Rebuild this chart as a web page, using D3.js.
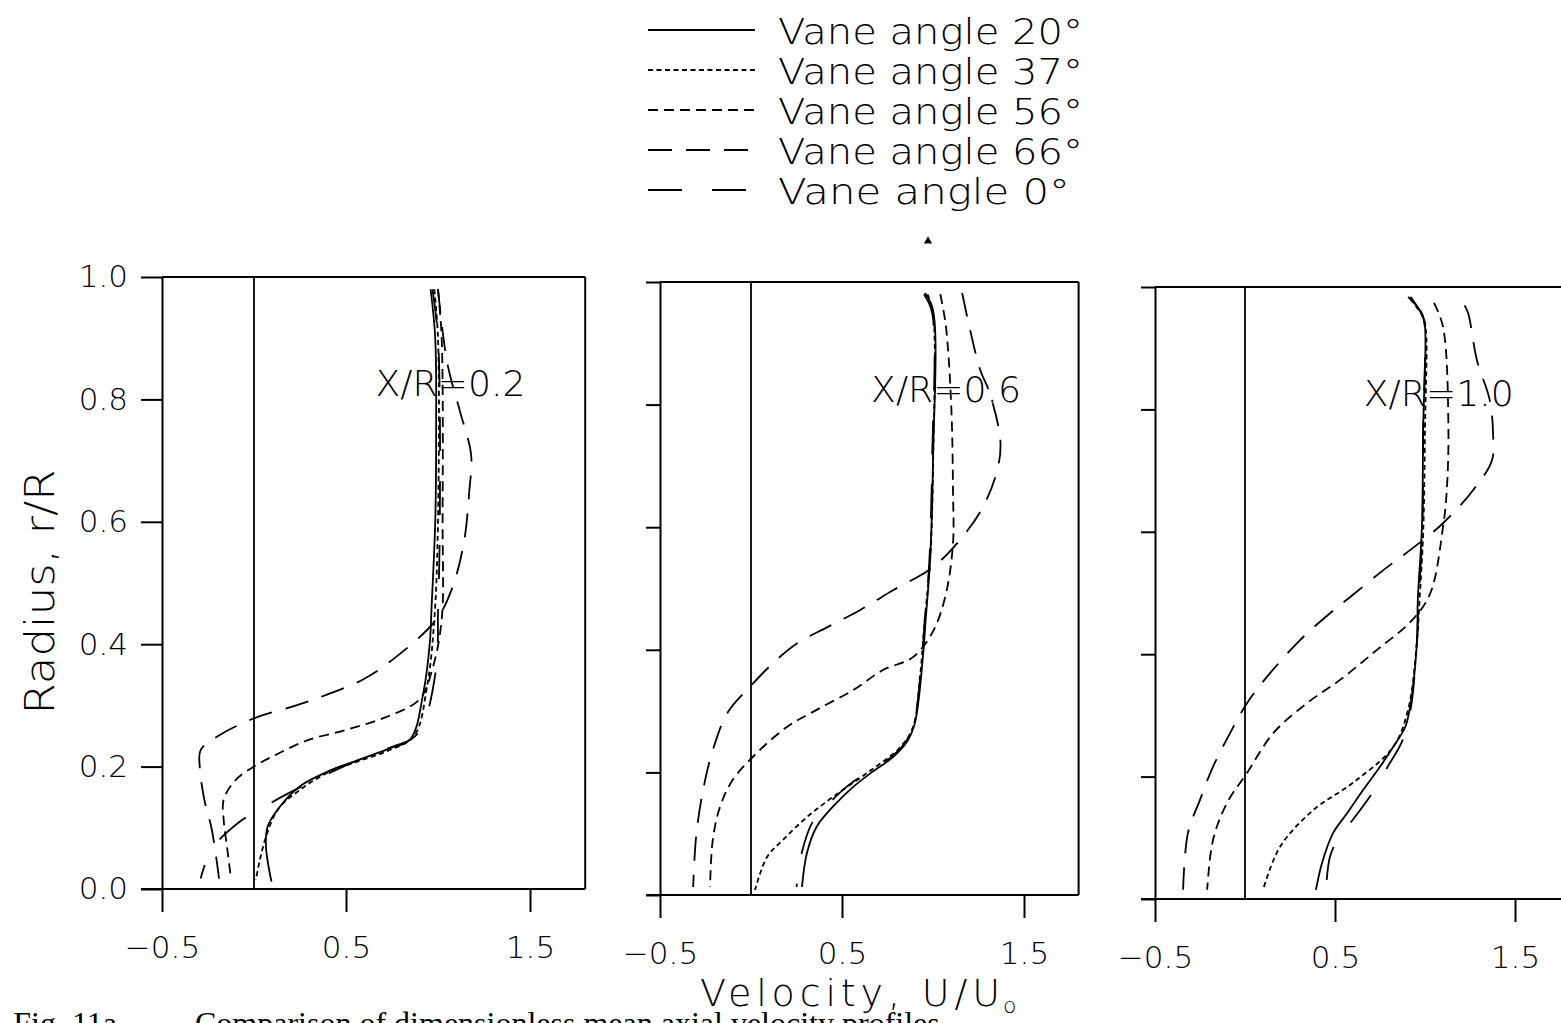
<!DOCTYPE html>
<html>
<head>
<meta charset="utf-8">
<script src="https://cdn.jsdelivr.net/npm/d3@7"></script>
<style>
body { margin: 0; background: #fff; }
svg { display: block; }
text { font-family: "DejaVu Sans", sans-serif; font-weight: 200; fill: #000; }
</style>
</head>
<body>
<svg id="chart" width="1561" height="1023"></svg>
<script>
// ---- data ----
const stations = ["X/R=0.2", "X/R=0.6", "X/R=1.0"];
const vaneAngles = ["20", "37", "56", "66", "0"];
const xTickValues = [-0.5, 0.5, 1.5];
const xTickLabels = ["\u22120.5", "0.5", "1.5"];
const yTickValues = [0, 0.2, 0.4, 0.6, 0.8, 1.0];
const yTickLabels = ["0.0", "0.2", "0.4", "0.6", "0.8", "1.0"];

// [U/Uo, r/R] per station (X/R = 0.2, 0.6, 1.0)
const vane20 = [
  [[0.96,0.98],[0.985,0.9],[0.99,0.75],[0.985,0.6],[0.965,0.46],[0.955,0.4],[0.92,0.32],[0.85,0.245],[0.73,0.229],[0.56,0.21],[0.44,0.197],[0.25,0.168],[0.15,0.138],[0.075,0.103],[0.065,0.07],[0.095,0.012]],
  [[0.956,0.982],[1.0,0.954],[1.0,0.71],[0.984,0.546],[0.96,0.45],[0.945,0.39],[0.9,0.28],[0.857,0.25],[0.78,0.225],[0.654,0.198],[0.56,0.176],[0.45,0.144],[0.36,0.111],[0.307,0.068],[0.28,0.013]],
  [[0.906,0.984],[0.983,0.957],[1.0,0.935],[0.99,0.77],[0.983,0.608],[0.96,0.489],[0.955,0.418],[0.917,0.314],[0.89,0.281],[0.822,0.248],[0.75,0.216],[0.656,0.178],[0.567,0.14],[0.49,0.108],[0.428,0.059],[0.394,0.015]]
];
const vane37 = [
  [[0.98,0.98],[1.0,0.9],[1.0,0.6],[0.98,0.44],[0.94,0.33],[0.87,0.25],[0.73,0.226],[0.55,0.207],[0.4,0.19],[0.25,0.162],[0.13,0.13],[0.065,0.085],[0.03,0.045],[0.01,0.015]],
  [[0.97,0.98],[1.0,0.95],[1.0,0.7],[0.985,0.55],[0.955,0.45],[0.93,0.36],[0.89,0.274],[0.82,0.241],[0.637,0.199],[0.45,0.16],[0.307,0.127],[0.176,0.09],[0.088,0.062],[0.022,0.008]],
  [[0.92,0.98],[0.99,0.95],[1.005,0.93],[1.0,0.77],[0.99,0.6],[0.97,0.49],[0.955,0.42],[0.906,0.309],[0.822,0.248],[0.6,0.19],[0.378,0.145],[0.194,0.085],[0.1,0.015]]
];
const vane56 = [
  [[1.0,0.98],[1.02,0.9],[1.025,0.6],[1.02,0.44],[0.97,0.36],[0.9,0.31],[0.71,0.28],[0.5,0.26],[0.29,0.243],[0.13,0.221],[0.01,0.202],[-0.1,0.178],[-0.165,0.146],[-0.165,0.114],[-0.145,0.065],[-0.125,0.017]],
  [[1.04,0.98],[1.07,0.93],[1.1,0.8],[1.11,0.656],[1.11,0.574],[1.07,0.49],[1.0,0.43],[0.89,0.388],[0.725,0.367],[0.56,0.334],[0.36,0.302],[0.197,0.274],[0.033,0.232],[-0.1,0.188],[-0.17,0.144],[-0.21,0.09],[-0.225,0.013]],
  [[1.05,0.974],[1.1,0.935],[1.13,0.77],[1.12,0.663],[1.1,0.608],[1.03,0.5],[0.93,0.456],[0.733,0.407],[0.528,0.358],[0.344,0.32],[0.157,0.271],[0.011,0.206],[-0.1,0.157],[-0.178,0.096],[-0.21,0.015]]
];
const vane66 = [
  [[1.0,0.98],[1.05,0.86],[1.12,0.78],[1.18,0.71],[1.17,0.65],[1.14,0.565],[1.075,0.49],[0.99,0.44],[0.75,0.374],[0.59,0.342],[0.4,0.318],[0.23,0.3],[0.01,0.28],[-0.19,0.251],[-0.29,0.227],[-0.295,0.2],[-0.27,0.146],[-0.23,0.098],[-0.19,0.017]],
  [[1.16,0.982],[1.2,0.927],[1.26,0.856],[1.31,0.82],[1.37,0.742],[1.357,0.698],[1.275,0.633],[1.15,0.58],[1.0,0.535],[0.78,0.497],[0.6,0.465],[0.42,0.437],[0.25,0.41],[0.12,0.378],[-0.005,0.34],[-0.13,0.297],[-0.21,0.236],[-0.26,0.176],[-0.3,0.1],[-0.318,0.013]],
  [[1.22,0.97],[1.24,0.957],[1.289,0.88],[1.36,0.815],[1.378,0.761],[1.372,0.717],[1.267,0.668],[1.1,0.614],[0.917,0.57],[0.767,0.537],[0.583,0.493],[0.472,0.467],[0.306,0.423],[0.139,0.369],[0.011,0.32],[-0.083,0.271],[-0.178,0.216],[-0.25,0.162],[-0.317,0.108],[-0.344,0.015]]
];
const vane0 = [
  [[0.97,0.98],[1.0,0.9],[1.01,0.6],[1.0,0.45],[0.99,0.36],[0.89,0.254],[0.73,0.23],[0.56,0.21],[0.25,0.166],[0.07,0.137],[-0.09,0.107],[-0.23,0.065],[-0.29,0.017]],
  [[0.95,0.98],[0.995,0.95],[0.995,0.71],[0.98,0.546],[0.955,0.45],[0.94,0.39],[0.895,0.28],[0.85,0.25],[0.77,0.225],[0.64,0.2],[0.54,0.18],[0.43,0.15],[0.34,0.12],[0.28,0.07],[0.25,0.013]],
  [[0.92,0.984],[0.99,0.95],[1.0,0.93],[0.99,0.77],[0.985,0.6],[0.965,0.49],[0.955,0.42],[0.92,0.31],[0.872,0.257],[0.8,0.22],[0.7,0.17],[0.6,0.13],[0.52,0.1],[0.472,0.069],[0.45,0.015]]
];

// ---- layout ----
var svg = d3.select("#chart");
var series = [vane20, vane37, vane56, vane66, vane0];
var dashes = [null, "5,3.5", "10,6", "24,14", "34,30"];
// each panel: pixel of u=-0.5, pixels per unit, top (r=1) and bottom (r=0)
var panels = [
  {left: 162, unit: 184, top: 277, bottom: 889, tick: 21},
  {left: 660, unit: 182, top: 282, bottom: 895, tick: 14},
  {left: 1155, unit: 180, top: 287, bottom: 899, tick: 14}
];

panels.forEach(function(p, i) {
  var x = d3.scaleLinear().domain([-0.5, 1.8]).range([p.left, p.left + 2.3 * p.unit]);
  var y = d3.scaleLinear().domain([0, 1]).range([p.bottom, p.top]);
  var g = svg.append("g").attr("class", "panel");

  // left axis
  var yAxis = d3.axisLeft(y)
    .tickValues(yTickValues)
    .tickSize(p.tick)
    .tickSizeOuter(0)
    .tickPadding(13)
    .tickFormat(function(d, k) { return i == 0 ? yTickLabels[k] : ""; });
  var ga = g.append("g").attr("transform", "translate(" + p.left + ",0)").call(yAxis);

  // bottom axis
  var xAxis = d3.axisBottom(x)
    .tickValues(xTickValues)
    .tickSize(23)
    .tickSizeOuter(0)
    .tickPadding(24)
    .tickFormat(function(d, k) { return xTickLabels[k]; });
  var gb = g.append("g").attr("transform", "translate(0," + p.bottom + ")").call(xAxis);

  [ga, gb].forEach(function(a) {
    a.selectAll("path, line").attr("stroke", "#000").attr("stroke-width", 2);
    a.selectAll("text").style("font-size", "31px").attr("fill", "#000");
  });
  gb.select(".domain").attr("d", "M" + (p.left - p.tick) + ",0H" + x(1.8));

  // frame: top, right, and u = 0 line
  g.append("line").attr("x1", p.left).attr("x2", x(1.8)).attr("y1", y(1)).attr("y2", y(1))
    .attr("stroke", "#000").attr("stroke-width", 2);
  g.append("line").attr("x1", x(1.8)).attr("x2", x(1.8)).attr("y1", y(0)).attr("y2", y(1))
    .attr("stroke", "#000").attr("stroke-width", 2);
  g.append("line").attr("x1", x(0)).attr("x2", x(0)).attr("y1", y(0)).attr("y2", y(1))
    .attr("stroke", "#000").attr("stroke-width", 1.8);

  // profiles
  var line = d3.line()
    .x(function(d) { return x(d[0]); })
    .y(function(d) { return y(d[1]); })
    .curve(d3.curveCatmullRom.alpha(0.5));
  series.forEach(function(s, k) {
    g.append("path")
      .attr("d", line(s[i]))
      .attr("fill", "none")
      .attr("stroke", "#000")
      .attr("stroke-width", 1.8)
      .attr("stroke-dasharray", dashes[k]);
  });

  // station label
  g.append("text")
    .attr("x", x(0.66)).attr("y", y(0.805))
    .attr("textLength", 150).attr("lengthAdjust", "spacingAndGlyphs")
    .style("font-size", "36px")
    .text(stations[i]);
});

// legend
var legend = svg.append("g").attr("class", "legend");
vaneAngles.forEach(function(a, k) {
  var yy = 30 + 40 * k;
  legend.append("line")
    .attr("x1", 648).attr("x2", 755).attr("y1", yy).attr("y2", yy)
    .attr("stroke", "#000").attr("stroke-width", 1.8)
    .attr("stroke-dasharray", dashes[k]);
  legend.append("text")
    .attr("x", 778).attr("y", yy + 14)
    .attr("textLength", a.length == 1 ? 292 : 305).attr("lengthAdjust", "spacingAndGlyphs")
    .style("font-size", "36px")
    .text("Vane angle " + a + "\u00b0");
});

// small mark under legend (present in scan)
svg.append("path")
  .attr("d", d3.symbol().type(d3.symbolTriangle).size(30)())
  .attr("transform", "translate(928,241)")
  .attr("fill", "#000");

// axis titles
svg.append("text")
  .attr("transform", "translate(54,592) rotate(-90)")
  .attr("text-anchor", "middle")
  .attr("textLength", 245).attr("lengthAdjust", "spacingAndGlyphs")
  .style("font-size", "40px")
  .text("Radius,  r/R");

svg.append("text")
  .attr("x", 700).attr("y", 1006)
  .attr("textLength", 300).attr("lengthAdjust", "spacing")
  .style("font-size", "38px")
  .text("Velocity,  U/U");
svg.append("text")
  .attr("x", 1003).attr("y", 1013)
  .style("font-size", "22px")
  .text("o");

// caption (cut off at the bottom of the page)
svg.append("text")
  .attr("x", 117).attr("y", 1034)
  .attr("text-anchor", "end")
  .style("font-family", "'Liberation Serif', serif")
  .style("font-weight", 400)
  .style("font-size", "32px")
  .text("Fig. 11a");
svg.append("text")
  .attr("x", 195).attr("y", 1034)
  .style("font-family", "'Liberation Serif', serif")
  .style("font-weight", 400)
  .style("font-size", "32px")
  .text("Comparison of dimensionless mean axial velocity profiles");
</script>
</body>
</html>
